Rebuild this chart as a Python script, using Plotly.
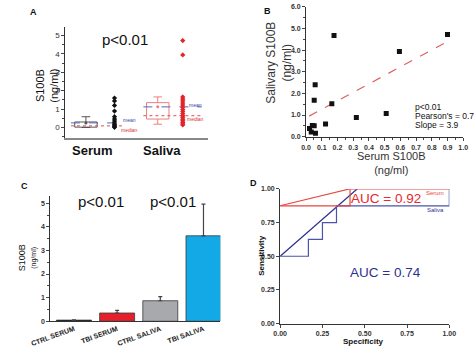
import plotly.graph_objects as go

W, H = 474, 353
FONT = "Liberation Sans"

# ---------------- Panel A data ----------------
a_groups = ["Serum", "Saliva"]
a_box_q1 = [0.02, 0.46]
a_box_q3 = [0.30, 1.35]
a_whisk_lo = [0.0, 0.18]
a_whisk_hi = [0.585, 1.66]
a_mean = [0.25, 1.12]
a_median = [0.09, 0.64]
a_serum_pts = [1.60, 1.44, 1.20, 0.89, 0.59, 0.46, 0.35, 0.25, 0.16, 0.09, 0.04, 0.01]
a_saliva_pts = [4.72, 3.94, 1.66, 1.55, 1.45, 1.33, 1.22, 1.10, 0.98, 0.87, 0.76, 0.65,
                0.55, 0.45, 0.36, 0.27, 0.19, 0.14]
a_yticks = [0, 1, 2, 3, 4, 5]

# ---------------- Panel B data ----------------
b_serum = [0.178, 0.90, 0.594, 0.058, 0.052, 0.164, 0.124, 0.32, 0.51,
           0.022, 0.033, 0.040, 0.052, 0.060]
b_saliva = [4.67, 4.72, 3.94, 2.40, 1.68, 1.52, 0.59, 0.89, 1.07,
            0.38, 0.22, 0.52, 0.50, 0.16]
b_fit_x = [0.02, 0.90]
b_fit_y = [0.95, 4.40]
b_xticks = [0.0, 0.1, 0.2, 0.3, 0.4, 0.5, 0.6, 0.7, 0.8, 0.9, 1.0]
b_yticks = [0.0, 1.0, 2.0, 3.0, 4.0, 5.0, 6.0]

# ---------------- Panel C data ----------------
c_cats = ["CTRL SERUM", "TBI SERUM", "CTRL SALIVA", "TBI SALIVA"]
c_vals = [0.05, 0.35, 0.87, 3.62]
c_errs = [0.01, 0.11, 0.17, 1.34]
c_colors = ["#151515", "#e5202a", "#a7a9ac", "#13a8e6"]
c_yticks = [0, 1, 2, 3, 4, 5]

# ---------------- Panel D data ----------------
d_serum_x = [0.0, 0.413, 0.413, 1.0]
d_serum_y = [0.875, 0.875, 1.0, 1.0]
d_saliva_x = [0.0, 0.167, 0.167, 0.25, 0.25, 0.333, 0.333, 1.0, 1.0]
d_saliva_y = [0.5, 0.5, 0.625, 0.625, 0.75, 0.75, 0.875, 0.875, 1.0]
d_serum_fit_x = [0.0, 0.41]
d_serum_fit_y = [0.875, 1.0]
d_saliva_fit_x = [0.0, 0.455]
d_saliva_fit_y = [0.5, 1.0]
d_ticks = [0.0, 0.25, 0.5, 0.75, 1.0]

RED = "#e84540"
NAVY = "#2e3192"


def px(x):
    return x / W


def py(y):
    return 1 - y / H


fig = go.Figure()

# ================= Panel A =================
a_box_x = [1.5, 6.5]
a_pts_x = [3.49, 8.24]
a_half = 0.78
a_box_col = ["#555555", "#ee7f7a"]
a_line_span = [(0.46, 4.15), (5.5, 9.55)]
for i in range(2):
    xc = a_box_x[i]
    c = a_box_col[i]
    fig.add_trace(go.Scatter(
        x=[xc - a_half, xc + a_half, xc + a_half, xc - a_half, xc - a_half],
        y=[a_box_q1[i], a_box_q1[i], a_box_q3[i], a_box_q3[i], a_box_q1[i]],
        mode="lines", line=dict(color=c, width=1), xaxis="x", yaxis="y",
        showlegend=False, hoverinfo="skip"))
    cap = 0.3
    fig.add_trace(go.Scatter(
        x=[xc, xc, None, xc - cap, xc + cap, None, xc, xc, None, xc - cap, xc + cap],
        y=[a_box_q3[i], a_whisk_hi[i], None, a_whisk_hi[i], a_whisk_hi[i], None,
           a_box_q1[i], a_whisk_lo[i], None, a_whisk_lo[i], a_whisk_lo[i]],
        mode="lines", line=dict(color=c, width=1), xaxis="x", yaxis="y",
        showlegend=False, hoverinfo="skip"))
    fig.add_trace(go.Scatter(
        x=[xc], y=[a_mean[i]], mode="markers",
        marker=dict(color=c, size=3), xaxis="x", yaxis="y",
        showlegend=False, hoverinfo="skip"))
    x0, x1 = a_line_span[i]
    fig.add_trace(go.Scatter(
        x=[x0, x1], y=[a_mean[i], a_mean[i]], mode="lines",
        line=dict(color="#5566bb", width=1, dash="dash"), xaxis="x", yaxis="y",
        showlegend=False, hoverinfo="skip"))
    fig.add_trace(go.Scatter(
        x=[x0, x1], y=[a_median[i], a_median[i]], mode="lines",
        line=dict(color="#e05050", width=1, dash="dot"), xaxis="x", yaxis="y",
        showlegend=False, hoverinfo="skip"))

fig.add_trace(go.Scatter(
    x=[a_pts_x[0]] * len(a_serum_pts), y=a_serum_pts, mode="markers",
    marker=dict(color="#111111", size=4, symbol="diamond"), xaxis="x", yaxis="y",
    showlegend=False))
fig.add_trace(go.Scatter(
    x=[a_pts_x[1]] * len(a_saliva_pts), y=a_saliva_pts, mode="markers",
    marker=dict(color="#e3242b", size=4, symbol="diamond"), xaxis="x", yaxis="y",
    showlegend=False))

# ================= Panel B =================
fig.add_trace(go.Scatter(
    x=b_fit_x, y=b_fit_y, mode="lines",
    line=dict(color="#e06060", width=1.2, dash="dash"), xaxis="x2", yaxis="y2",
    showlegend=False))
fig.add_trace(go.Scatter(
    x=b_serum, y=b_saliva, mode="markers",
    marker=dict(color="#111111", size=5, symbol="square"), xaxis="x2", yaxis="y2",
    showlegend=False))

# ================= Panel C =================
fig.add_trace(go.Bar(
    x=c_cats, y=c_vals,
    marker=dict(color=c_colors, line=dict(color="#3a3a3a", width=0.8)),
    error_y=dict(type="data", symmetric=False, array=c_errs,
                 arrayminus=[0] * len(c_errs), color="#444444", thickness=1.2, width=2),
    xaxis="x3", yaxis="y3", showlegend=False))
fig.add_trace(go.Scatter(
    x=[1.5, 1.5], y=[0, 5.15], mode="lines",
    line=dict(color="#999999", width=1), xaxis="x3", yaxis="y3",
    showlegend=False, hoverinfo="skip"))

# ================= Panel D =================
fig.add_trace(go.Scatter(x=d_serum_fit_x, y=d_serum_fit_y, mode="lines",
                         line=dict(color=RED, width=1.2), xaxis="x4", yaxis="y4",
                         showlegend=False))
fig.add_trace(go.Scatter(x=d_saliva_fit_x, y=d_saliva_fit_y, mode="lines",
                         line=dict(color=NAVY, width=1.2), xaxis="x4", yaxis="y4",
                         showlegend=False))
fig.add_trace(go.Scatter(x=d_saliva_x, y=d_saliva_y, mode="lines",
                         line=dict(color="#4a55a8", width=1.2), xaxis="x4", yaxis="y4",
                         showlegend=False))
fig.add_trace(go.Scatter(x=d_serum_x, y=d_serum_y, mode="lines",
                         line=dict(color=RED, width=1.2), xaxis="x4", yaxis="y4",
                         showlegend=False))

tickfont = dict(family=FONT, size=7, color="#333333")
common = dict(showgrid=False, zeroline=False, showline=True, ticks="outside",
              ticklen=3, tickfont=tickfont, fixedrange=True)
common_nofont = {k: v for k, v in common.items() if k != "tickfont"}
boldtick = dict(family=FONT, size=7, color="#333333", weight="bold")

fig.update_layout(
    width=W, height=H, margin=dict(l=0, r=0, t=0, b=0),
    paper_bgcolor="white", plot_bgcolor="white",
    font=dict(family=FONT),
    xaxis=dict(domain=[px(48), px(200)], range=[0, 10], anchor="y",
               showgrid=False, zeroline=False, showline=True, linecolor="#888888",
               linewidth=2, showticklabels=False, ticks="", fixedrange=True),
    yaxis=dict(domain=[py(137), py(23)], range=[-0.585, 5.48], anchor="free",
               position=px(48), linecolor="#333333", linewidth=1,
               tickvals=a_yticks, minor=dict(ticks="outside", dtick=0.5, ticklen=2),
               **common_nofont, tickfont=dict(family=FONT, size=8, color="#333333")),
    xaxis2=dict(domain=[px(303.7), px(470)], range=[0, 1.0], anchor="y2",
                tickvals=b_xticks, tickformat=".1f", linecolor="#333333",
                minor=dict(ticks="outside", dtick=0.05, ticklen=2),
                **common_nofont, tickfont=boldtick),
    yaxis2=dict(domain=[py(136), py(2.9)], range=[-0.03, 6.0], anchor="x2",
                tickvals=b_yticks, tickformat=".1f", linecolor="#333333",
                minor=dict(ticks="outside", dtick=0.5, ticklen=2),
                **common_nofont, tickfont=boldtick),
    xaxis3=dict(domain=[px(33), px(213)], range=[-0.55, 3.39], anchor="y3",
                type="category", showgrid=False, zeroline=False, showline=True,
                linecolor="#333333", ticks="", tickangle=-20,
                tickfont=dict(family=FONT, size=7, color="#222222"),
                tickvals=c_cats, ticktext=["<b>%s</b>" % c for c in c_cats],
                fixedrange=True),
    yaxis3=dict(domain=[py(323.7), py(196)], range=[0, 5.3], anchor="x3",
                tickvals=c_yticks, linecolor="#333333",
                minor=dict(ticks="outside", dtick=0.5, ticklen=2),
                **common_nofont, tickfont=boldtick),
    xaxis4=dict(domain=[px(276.3), px(455.3)], range=[0, 1.0], anchor="y4",
                tickvals=d_ticks, tickformat=".2f", linecolor="#333333",
                **common_nofont, tickfont=boldtick),
    yaxis4=dict(domain=[py(326), py(188.7)], range=[0, 1.0], anchor="x4",
                tickvals=d_ticks, tickformat=".2f", linecolor="#333333",
                **common_nofont, tickfont=boldtick),
    bargap=0.19,
)

ann = []


def A(x, y, text, size, color="#111111", bold=False, angle=0, xanchor="center",
      yanchor="middle", xref="paper", yref="paper"):
    ann.append(dict(x=x, y=y, xref=xref, yref=yref, text=text, showarrow=False,
                    textangle=angle, xanchor=xanchor, yanchor=yanchor,
                    font=dict(family=FONT, size=size, color=color,
                              weight="bold" if bold else "normal")))


# Panel labels
A(px(15), py(8), "A", 9, bold=True)
A(px(263), py(7), "B", 9, bold=True)
A(px(6), py(186), "C", 9, bold=True)
A(px(248), py(183), "D", 9, bold=True)

# Panel A texts
A(px(30), py(83), "S100B<br>(ng/ml)", 11, angle=-90)
A(px(112), py(36), "p&lt;0.01", 15)
A(px(77), py(149), "Serum", 13, bold=True)
A(px(151), py(149), "Saliva", 13, bold=True)
A(px(117), py(118.3), "mean", 5, color="#3344aa")
A(px(117), py(128.3), "median", 5, color="#e03030")
A(px(187), py(102.7), "mean", 5, color="#3344aa")
A(px(187), py(117.3), "median", 5, color="#e03030")

# Panel B texts
A(px(275), py(60), "Salivary S100B<br>(ng/ml)", 12, color="#333333", angle=-90)
A(px(394), py(162), "Serum S100B<br>(ng/ml)", 11, color="#333333")
A(px(417), py(105), "p&lt;0.01", 8.5, xanchor="left")
A(px(417), py(114), "Pearson's = 0.7", 8.5, xanchor="left")
A(px(417), py(123), "Slope = 3.9", 8.5, xanchor="left")

# Panel C texts
A(px(9), py(259), "S100B<br><span style='font-size:7px'>(ng/ml)</span>", 9, angle=-90)
A(px(87), py(201), "p&lt;0.01", 15)
A(px(163), py(201), "p&lt;0.01", 15)

# Panel D texts
A(px(388), py(198), "AUC = 0.92", 13.5, color="#e8262d")
A(px(388), py(274), "AUC = 0.74", 13.5, color=NAVY)
A(px(452), py(193), "Serum", 6, color=RED, xanchor="right")
A(px(452), py(210), "Saliva", 6, color=NAVY, xanchor="right")
A(px(257), py(256), "Sensitivity", 8, bold=True, angle=-90)
A(px(365), py(344), "Specificity", 8, bold=True)

fig.update_layout(annotations=ann)

fig.write_html("out.html")
